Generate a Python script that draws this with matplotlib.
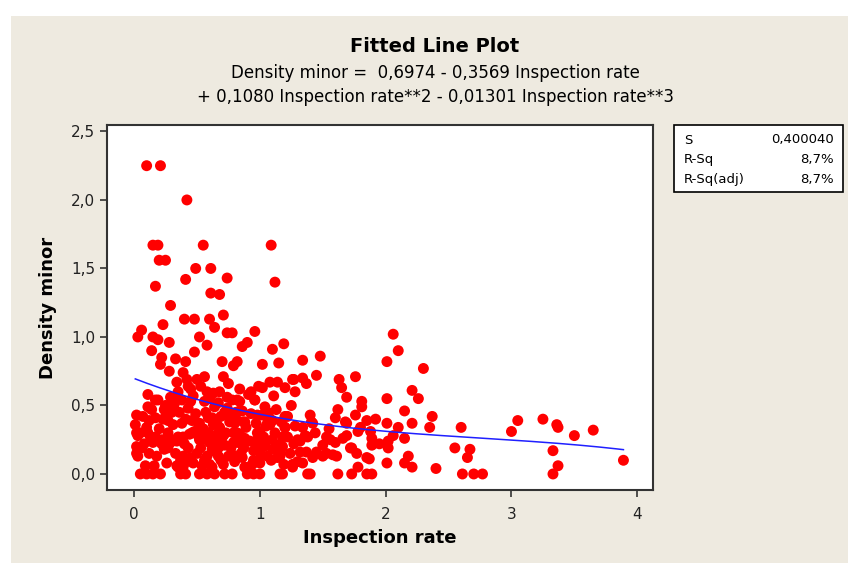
import matplotlib
matplotlib.use("Agg")
import matplotlib.pyplot as plt
import numpy as np
from matplotlib.patches import Rectangle

plt.rcParams['font.family'] = ['DejaVu Sans']

# scatter data (Inspection rate, Density minor)
x_top = [0.10, 0.21, 0.42, 0.15, 0.19, 0.55, 1.09, 0.20, 0.25, 0.49, 0.61,
         0.17, 0.41, 0.74, 1.12, 0.61, 0.68, 0.29, 0.40, 0.48, 0.60, 0.64,
         0.71, 0.23, 0.06, 0.03, 0.15, 0.19, 0.28, 0.96, 0.74, 0.78, 0.52,
         0.58, 0.86, 0.90, 1.10, 1.19, 0.14, 0.48, 0.22, 0.33, 0.41, 0.70,
         0.82, 0.79, 1.02, 1.15, 0.21, 0.28, 0.39, 0.56, 0.34, 0.71, 0.75,
         1.02, 1.08, 1.14, 1.20, 1.26, 0.42, 0.50]
y_top = [2.25, 2.25, 2.00, 1.67, 1.67, 1.67, 1.67, 1.56, 1.56, 1.50, 1.50,
         1.37, 1.42, 1.43, 1.40, 1.32, 1.31, 1.23, 1.13, 1.13, 1.13, 1.07,
         1.16, 1.09, 1.05, 1.00, 1.00, 0.98, 0.96, 1.04, 1.03, 1.03, 1.00,
         0.94, 0.93, 0.96, 0.91, 0.95, 0.90, 0.89, 0.85, 0.84, 0.82, 0.82,
         0.82, 0.79, 0.80, 0.81, 0.80, 0.75, 0.74, 0.71, 0.67, 0.71, 0.66,
         0.63, 0.67, 0.67, 0.63, 0.69, 0.69, 0.69]

x_low = [0.11, 0.17, 0.29, 0.38, 0.45, 0.56, 0.60, 0.67, 0.78, 0.82, 0.96,
         1.04, 1.06, 0.02, 0.01, 0.17, 0.10, 0.26, 0.30, 0.38, 0.46, 0.52,
         0.62, 0.66, 0.75, 0.80, 0.88, 0.98, 1.06, 1.10, 1.20, 1.20, 1.30,
         0.03, 0.02, 0.02, 0.13, 0.15, 0.22, 0.29, 0.34, 0.18, 0.39, 0.43,
         0.39, 0.39, 0.34, 0.48, 0.52, 0.50, 0.47, 0.59, 0.60, 0.58, 0.62,
         0.67, 0.71, 0.75, 0.71, 0.79, 0.82, 0.87, 0.86, 0.91, 0.95, 0.98,
         0.98, 1.03, 1.06, 1.10, 1.16, 1.18, 1.18, 1.26, 1.32,
         0.19, 0.11, 0.25, 0.27, 0.34, 0.43, 0.64, 0.51, 0.59, 0.72, 0.68,
         0.02, 0.11, 0.17, 0.03, 0.22, 0.30, 0.35, 0.27, 0.42, 0.35, 0.46,
         0.54, 0.56, 0.62, 0.59, 0.64, 0.70, 0.67, 0.72, 0.78, 0.79,
         0.84, 0.96, 1.07, 1.08, 1.22, 1.20, 0.82, 0.87, 1.03, 1.10, 0.82,
         0.87, 0.98, 1.16, 1.14, 0.88, 1.00, 0.84, 0.93, 0.68, 0.45, 0.24]
y_low = [0.58, 0.54, 0.56, 0.54, 0.53, 0.53, 0.55, 0.52, 0.54, 0.54, 0.54,
         0.49, 0.45, 0.43, 0.36, 0.41, 0.34, 0.43, 0.45, 0.37, 0.39, 0.37,
         0.41, 0.36, 0.42, 0.37, 0.38, 0.43, 0.37, 0.39, 0.42, 0.34, 0.25,
         0.28, 0.20, 0.15, 0.27, 0.23, 0.25, 0.23, 0.24, 0.13, 0.27, 0.19,
         0.13, 0.05, 0.06, 0.31, 0.25, 0.15, 0.08, 0.30, 0.23, 0.13, 0.05,
         0.19, 0.28, 0.13, 0.07, 0.23, 0.30, 0.19, 0.12, 0.05, 0.10, 0.25,
         0.30, 0.20, 0.13, 0.18, 0.13, 0.27, 0.20, 0.07, 0.16,
         0.54, 0.49, 0.50, 0.39, 0.56, 0.48, 0.49, 0.37, 0.41, 0.45, 0.34,
         0.30, 0.30, 0.27, 0.13, 0.22, 0.25, 0.27, 0.19, 0.09, 0.05, 0.30,
         0.25, 0.10, 0.18, 0.30, 0.25, 0.27, 0.13, 0.21, 0.14, 0.30,
         0.53, 0.54, 0.42, 0.36, 0.42, 0.34, 0.39, 0.38, 0.27, 0.25, 0.23,
         0.19, 0.20, 0.16, 0.12, 0.05, 0.08, 0.46, 0.60, 0.60, 0.62, 0.47]

# extra points in the dense lower-left blob
x_dense = [0.05, 0.08, 0.12, 0.07, 0.14, 0.20, 0.24, 0.26, 0.31, 0.33, 0.36,
           0.40, 0.44, 0.45, 0.49, 0.53, 0.55, 0.57, 0.60, 0.63, 0.65, 0.69,
           0.70, 0.73, 0.74, 0.77, 0.80, 0.81, 0.84, 0.85, 0.89, 0.92, 0.93,
           0.95, 0.97, 1.00, 1.01, 1.04, 1.05, 1.09, 1.12, 1.13, 1.15, 1.17,
           1.22, 1.24, 1.25, 1.28, 1.30, 0.09, 0.12, 0.27, 0.32, 0.37, 0.41,
           0.47, 0.51, 0.54, 0.58, 0.66, 0.69, 0.76, 0.84, 0.88, 0.91, 0.94,
           1.02, 1.11, 1.19, 1.27, 0.06, 0.16, 0.23, 0.35, 0.43, 0.53, 0.63,
           0.74, 0.86, 0.99]
y_dense = [0.30, 0.22, 0.15, 0.42, 0.47, 0.33, 0.18, 0.08, 0.36, 0.15, 0.45,
           0.22, 0.29, 0.12, 0.44, 0.19, 0.33, 0.45, 0.07, 0.36, 0.16, 0.42,
           0.22, 0.30, 0.48, 0.19, 0.09, 0.45, 0.29, 0.15, 0.34, 0.24, 0.44,
           0.17, 0.37, 0.31, 0.14, 0.22, 0.35, 0.10, 0.30, 0.47, 0.21, 0.38,
           0.27, 0.15, 0.50, 0.35, 0.09, 0.06, 0.39, 0.30, 0.51, 0.10, 0.40,
           0.57, 0.28, 0.06, 0.60, 0.29, 0.10, 0.38, 0.62, 0.26, 0.58, 0.07,
           0.43, 0.57, 0.07, 0.22, 0.19, 0.06, 0.40, 0.60, 0.64, 0.64, 0.59,
           0.56, 0.46, 0.64]

x_right = [2.06, 2.10, 2.01, 2.30, 1.48, 1.34, 1.45, 1.34, 1.27, 1.37, 1.28,
           1.63, 1.65, 1.69, 1.76, 2.01, 2.21, 2.26, 1.81, 1.81, 1.62, 1.60,
           1.40, 1.41, 1.76, 2.15, 1.92, 1.85, 2.01, 1.69, 2.21, 2.37, 2.35,
           2.60, 1.34, 1.36, 1.44, 1.53, 1.80, 1.78, 1.88, 1.89, 2.10, 2.06,
           2.02, 2.15, 1.69, 1.32, 1.50, 1.60, 1.73, 1.89, 2.02, 2.55, 2.67,
           2.65, 1.37, 1.45, 1.50, 1.58, 1.77, 1.85, 1.87, 2.18, 2.15, 2.21,
           2.01, 1.34, 1.26, 1.78, 2.40, 1.42, 1.68, 1.38, 1.56, 1.66, 1.42,
           1.53, 1.61, 1.72, 1.55, 1.95,
           3.05, 3.00, 3.25, 3.36, 3.37, 3.50, 3.65, 3.33, 3.37, 3.89]
y_right = [1.02, 0.90, 0.82, 0.77, 0.86, 0.83, 0.72, 0.70, 0.69, 0.66, 0.60,
           0.69, 0.63, 0.56, 0.71, 0.55, 0.61, 0.55, 0.53, 0.49, 0.47, 0.41,
           0.43, 0.38, 0.43, 0.46, 0.40, 0.39, 0.37, 0.37, 0.37, 0.42, 0.34,
           0.34, 0.34, 0.28, 0.30, 0.27, 0.34, 0.31, 0.31, 0.26, 0.34, 0.28,
           0.24, 0.26, 0.28, 0.24, 0.21, 0.23, 0.19, 0.21, 0.19, 0.19, 0.18,
           0.12, 0.16, 0.16, 0.13, 0.14, 0.15, 0.12, 0.11, 0.13, 0.08, 0.05,
           0.08, 0.08, 0.05, 0.05, 0.04, 0.37, 0.38, 0.27, 0.25, 0.26, 0.12,
           0.15, 0.13, 0.19, 0.33, 0.22,
           0.39, 0.31, 0.40, 0.36, 0.34, 0.28, 0.32, 0.17, 0.06, 0.10]

x_zero = [0.05, 0.10, 0.15, 0.21, 0.37, 0.41, 0.52, 0.58, 0.64, 0.72, 0.78,
          0.90, 0.95, 1.00, 1.16, 1.18, 1.38, 1.40, 1.62, 1.73, 1.85, 1.89,
          2.61, 2.70, 2.77, 3.33]

# fitted cubic from the title
coef = [0.6974, -0.3569, 0.1080, -0.01301]
s_val = "0,400040"
rsq = "8,7%"
rsq_adj = "8,7%"

x_all = x_top + x_low + x_dense + x_right + x_zero
y_all = y_top + y_low + y_dense + y_right + [0.0] * len(x_zero)

fig = plt.figure(figsize=(8.48, 5.63), dpi=100)
fig.patch.set_facecolor('white')
fig.add_artist(Rectangle((11 / 848, 0), 1, 1 - 16 / 563, transform=fig.transFigure,
                         facecolor='#eeeae0', edgecolor='none', zorder=-10))

ax = fig.add_axes([107 / 848, 1 - 490 / 563, 546 / 848, 365 / 563])
ax.set_facecolor('white')
ax.scatter(x_all, y_all, s=62, color='#ff0000', edgecolors='none', zorder=2)

xf = np.linspace(min(x_all), max(x_all), 200)
yf = coef[0] + coef[1] * xf + coef[2] * xf ** 2 + coef[3] * xf ** 3
ax.plot(xf, yf, color='#2020ff', lw=1.1, zorder=3)

ax.set_xlim(-0.215, 4.125)
ax.set_ylim(-0.117, 2.547)
ax.set_xticks([0, 1, 2, 3, 4])
ax.set_yticks([0, 0.5, 1.0, 1.5, 2.0, 2.5])
ax.set_yticklabels(['0,0', '0,5', '1,0', '1,5', '2,0', '2,5'])
for sp in ax.spines.values():
    sp.set_color('#333333')
    sp.set_linewidth(1.5)
ax.tick_params(direction='out', length=5, width=1.2, color='#333333',
               labelsize=11, labelcolor='#222222')
ax.tick_params(axis='x', pad=7)

ax.set_xlabel('Inspection rate', fontsize=13, fontweight='bold', labelpad=5)
ax.set_ylabel('Density minor', fontsize=13, fontweight='bold', labelpad=10)

fig.text(0.513, 1 - 47 / 563, 'Fitted Line Plot', ha='center', va='center',
         fontsize=14, fontweight='bold')
fig.text(0.513, 1 - 73 / 563, 'Density minor =  0,6974 - 0,3569 Inspection rate',
         ha='center', va='center', fontsize=12)
fig.text(0.513, 1 - 97 / 563, '+ 0,1080 Inspection rate**2 - 0,01301 Inspection rate**3',
         ha='center', va='center', fontsize=12)

# statistics box
fig.add_artist(Rectangle((674 / 848, 1 - 192 / 563), 169 / 848, 67 / 563,
                         transform=fig.transFigure, facecolor='white',
                         edgecolor='black', lw=1.2))
rows = [('S', s_val), ('R-Sq', rsq), ('R-Sq(adj)', rsq_adj)]
for i, (lab, val) in enumerate(rows):
    yy = 1 - (140 + 20 * i) / 563
    fig.text(684 / 848, yy, lab, ha='left', va='center', fontsize=9.5)
    fig.text(834 / 848, yy, val, ha='right', va='center', fontsize=9.5)

fig.savefig('out.png', dpi=100)
